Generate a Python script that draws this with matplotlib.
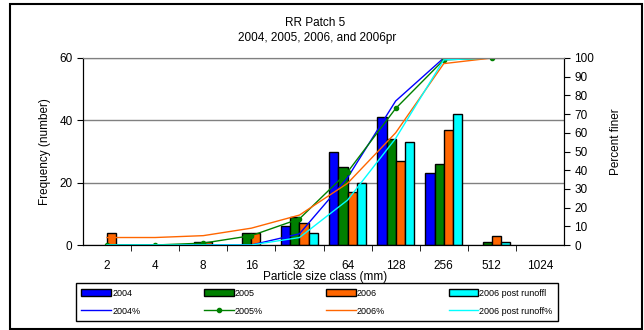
import numpy as np
import matplotlib
matplotlib.use("Agg")
import matplotlib.pyplot as plt
from matplotlib.patches import Rectangle

plt.rcParams['font.family'] = ['Liberation Sans', 'DejaVu Sans']

# particle size classes (mm)
sizes = ['2', '4', '8', '16', '32', '64', '128', '256', '512', '1024']

# frequency counts
f2004 = [0, 0, 0, 0, 6, 30, 41, 23, 0, 0]
f2005 = [0, 0, 1, 4, 9, 25, 34, 26, 1, 0]
f2006 = [4, 0, 1, 4, 7, 17, 27, 37, 3, 0]
f2006pr = [0, 0, 0, 0, 4, 20, 33, 42, 1, 0]

# percent finer
nan = np.nan
p2004 = [0, 0, 0, 0, 6, 36, 77, 100, nan, nan]
p2005 = [0, 0, 1, 5, 14, 39, 73, 99, 100, nan]
p2006 = [4, 4, 5, 9, 16, 33, 60, 97, 100, nan]
p2006pr = [0, 0, 0, 0, 4, 24, 57, 99, 100, nan]

blue = '#0000FF'
green = '#008000'
orange = '#FF6600'
cyan = '#00FFFF'
fs = 8.5

fig = plt.figure(figsize=(6.44, 3.30), dpi=100)
ax = fig.add_axes([83 / 644, 85 / 330, 481 / 644, 187 / 330])
ax2 = ax.twinx()

x = np.arange(len(sizes))
w = 0.19
bars = []
for i, (vals, col, lab) in enumerate([(f2004, blue, '2004'), (f2005, green, '2005'),
                                      (f2006, orange, '2006'), (f2006pr, cyan, '2006 post runoffl')]):
    h = [v if v > 0 else np.nan for v in vals]
    b = ax.bar(x + (i - 1.5) * w, h, width=w, color=col, edgecolor='black', linewidth=1, label=lab, zorder=2)
    bars.append(b)

l1, = ax2.plot(x, p2004, color=blue, lw=1, label='2004%')
l2, = ax2.plot(x, p2005, color=green, lw=1, marker='o', markersize=3, label='2005%')
l3, = ax2.plot(x, p2006, color=orange, lw=1, label='2006%')
l4, = ax2.plot(x, p2006pr, color=cyan, lw=1, label='2006 post runoff%')
lines = [l1, l2, l3, l4]

ax.set_xlim(-0.5, len(sizes) - 0.5)
ax.set_ylim(0, 60)
ax.set_yticks([0, 20, 40, 60])
ax2.set_ylim(0, 100)
ax2.set_yticks(range(0, 101, 10))

ax.set_xticks(x)
ax.set_xticklabels(sizes)
ax.set_xticks(np.arange(0.5, len(sizes) - 0.5, 1), minor=True)
ax.tick_params(axis='x', which='major', length=0, pad=11, labelsize=fs)
ax.tick_params(axis='x', which='minor', length=4, direction='out', color='black')
ax.tick_params(axis='y', length=4, labelsize=fs)
ax2.tick_params(axis='y', length=4, labelsize=fs)

ax.yaxis.grid(True, color='#808080', lw=1)
ax.set_axisbelow(True)
for a in (ax, ax2):
    a.spines['top'].set_color('#808080')
    a.spines['bottom'].set_color('black')

ax.set_xlabel('Particle size class (mm)', fontsize=fs)
ax.xaxis.set_label_coords(0.503, -0.14)
ax.set_ylabel('Frequency (number)', fontsize=fs)
ax.yaxis.set_label_coords(-0.066, 0.5)
ax2.set_ylabel('Percent finer', fontsize=fs)
ax2.yaxis.set_label_coords(1.095, 0.55)

fig.text(315 / 644, 1 - 23 / 330, 'RR Patch 5', ha='center', va='center', fontsize=fs)
fig.text(317 / 644, 1 - 38 / 330, '2004, 2005, 2006, and 2006pr', ha='center', va='center', fontsize=fs)

# legend: bars in top row, lines in bottom row
handles = []
for b, l in zip(bars, lines):
    handles += [b, l]
fig.legend(handles=handles, labels=[h.get_label() for h in handles], ncol=4,
           loc='lower left', bbox_to_anchor=(76 / 644, 9 / 330, 482 / 644, 38 / 330),
           mode='expand', borderaxespad=0, fontsize=6.5, fancybox=False,
           edgecolor='black', framealpha=1, handlelength=3.3, handletextpad=0.1,
           borderpad=0.6, labelspacing=1.0, columnspacing=0.5)
fig.legends[0].get_frame().set_linewidth(1)

fig.patches.append(Rectangle((10 / 644, 1 / 330), 632 / 644, 325 / 330, transform=fig.transFigure,
                             fill=False, edgecolor='black', lw=1.5))

fig.savefig('out.png', dpi=100)
